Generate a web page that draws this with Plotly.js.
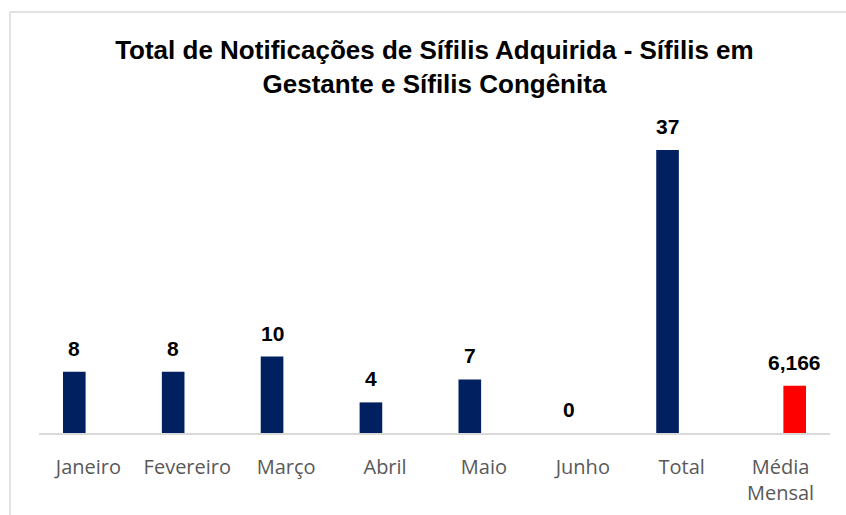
<!DOCTYPE html>
<html>
<head>
<meta charset="utf-8">
<script src="https://cdn.plot.ly/plotly-3.0.1.min.js"></script>
<style>
  html, body { margin: 0; padding: 0; background: #ffffff; }
  #chart { width: 846px; height: 515px; }
</style>
</head>
<body>
<div id="chart"></div>
<script>
// ---- Data ----
const categories = ['Janeiro', 'Fevereiro', 'Março', 'Abril', 'Maio', 'Junho', 'Total', 'Média<br>Mensal'];
const notificacoes = [8, 8, 10, 4, 7, 0, 37, null];
const mediaMensal = [null, null, null, null, null, null, null, 6.166];
const chartTitle = 'Total de Notificações de Sífilis Adquirida - Sífilis em<br>Gestante e Sífilis Congênita';

// ---- Styles ----
const navy = '#002060';
const red = '#FF0000';
const labelFont = { family: 'Liberation Sans, Arial, sans-serif', size: 21, color: '#000000', weight: 700 };

function fmt(v) {
  return v.toLocaleString('pt-BR', { maximumFractionDigits: 3 });
}

const traces = [
  {
    type: 'bar', x: categories, y: notificacoes, name: 'Notificações',
    marker: { color: navy, line: { width: 0 } },
    hoverinfo: 'x+y'
  },
  {
    type: 'bar', x: categories, y: mediaMensal, name: 'Média Mensal',
    marker: { color: red, line: { width: 0 } },
    hoverinfo: 'x+y'
  }
];

const annotations = [];
categories.forEach((c, i) => {
  if (notificacoes[i] !== null) {
    annotations.push({
      x: c, y: notificacoes[i], xref: 'x', yref: 'y',
      text: '<b>' + fmt(notificacoes[i]) + '</b>', showarrow: false,
      xanchor: 'center', yanchor: 'bottom', xshift: -14, yshift: 10,
      font: labelFont
    });
  }
  if (mediaMensal[i] !== null) {
    annotations.push({
      x: c, y: mediaMensal[i], xref: 'x', yref: 'y',
      text: '<b>' + fmt(mediaMensal[i]) + '</b>', showarrow: false,
      xanchor: 'center', yanchor: 'bottom', xshift: 14, yshift: 10,
      font: labelFont
    });
  }
});

const layout = {
  width: 846, height: 515,
  paper_bgcolor: '#ffffff', plot_bgcolor: '#ffffff',
  margin: { l: 39, r: 16, t: 127, b: 82 },
  showlegend: false,
  barmode: 'group',
  bargap: 0.428,
  bargroupgap: 0.2,
  title: {
    text: '<b>' + chartTitle + '</b>',
    x: 0.5135, xanchor: 'center',
    y: 0.885, yanchor: 'top', yref: 'container',
    font: { family: 'Liberation Sans, Arial, sans-serif', size: 26, color: '#000000' }
  },
  xaxis: {
    type: 'category',
    showline: true, linecolor: '#d9d9d9', linewidth: 1.5,
    ticks: '', showgrid: false, zeroline: false,
    ticklabelstandoff: 15,
    tickfont: { family: 'Open Sans, sans-serif', size: 20, color: '#595959' }
  },
  yaxis: {
    range: [0, 40], visible: false, showgrid: false, zeroline: false
  },
  annotations: annotations,
  shapes: [
    { type: 'line', xref: 'paper', yref: 'paper', x0: -0.0367, x1: -0.0367, y0: -0.6, y1: 1.376,
      line: { color: '#d9d9d9', width: 1.5 } },
    { type: 'line', xref: 'paper', yref: 'paper', x0: -0.0367, x1: 1.1, y0: 1.376, y1: 1.376,
      line: { color: '#d9d9d9', width: 1.5 } }
  ]
};

Plotly.newPlot('chart', traces, layout, { displayModeBar: false, staticPlot: true });
</script>
</body>
</html>
